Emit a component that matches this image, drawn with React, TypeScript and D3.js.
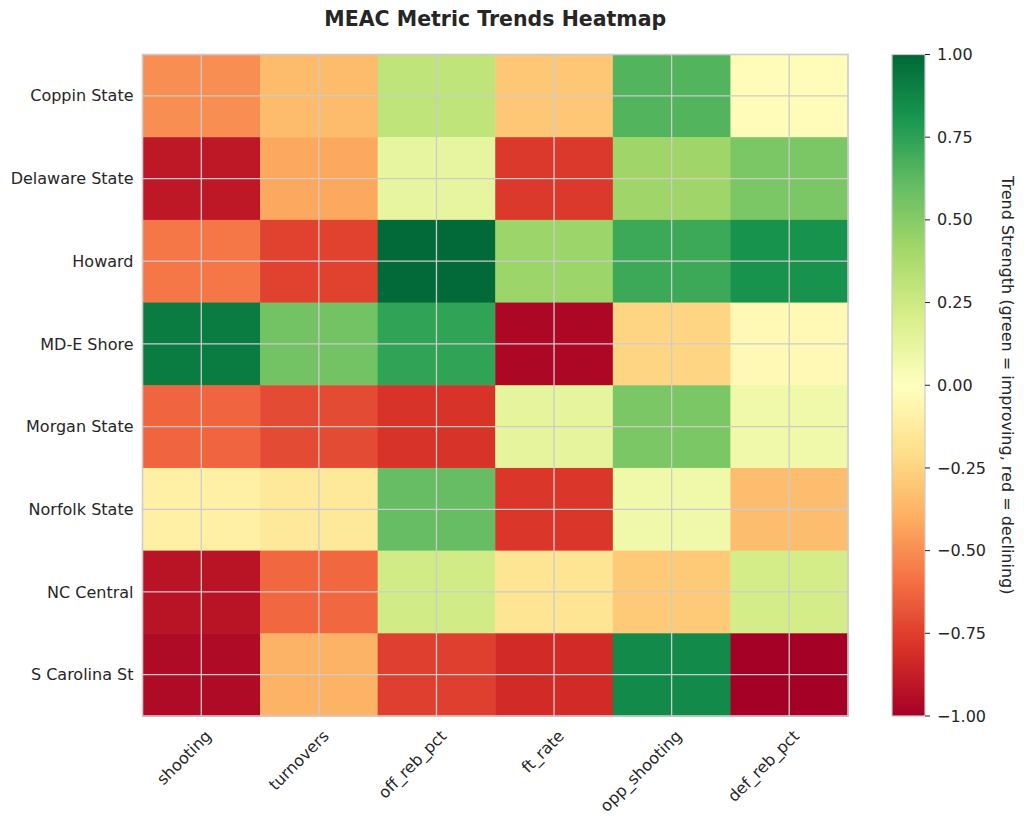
import { useMemo } from "react"
import * as d3 from "d3"

const teams = [
  "Coppin State",
  "Delaware State",
  "Howard",
  "MD-E Shore",
  "Morgan State",
  "Norfolk State",
  "NC Central",
  "S Carolina St",
]

const metrics = ["shooting", "turnovers", "off_reb_pct", "ft_rate", "opp_shooting", "def_reb_pct"]

// trend strength per team, in metric order
const coppinState = [-0.5, -0.35, 0.3, -0.3, 0.65, -0.02]
const delawareState = [-0.9, -0.42, 0.12, -0.77, 0.42, 0.53]
const howard = [-0.57, -0.74, 0.99, 0.43, 0.71, 0.82]
const mdEShore = [0.92, 0.56, 0.74, -0.97, -0.24, -0.04]
const morganState = [-0.63, -0.71, -0.79, 0.13, 0.53, 0.08]
const norfolkState = [-0.1, -0.14, 0.6, -0.78, 0.08, -0.34]
const ncCentral = [-0.92, -0.62, 0.23, -0.17, -0.29, 0.22]
const sCarolinaSt = [-0.96, -0.38, -0.75, -0.82, 0.86, -1.0]

const values = [coppinState, delawareState, howard, mdEShore, morganState, norfolkState, ncCentral, sCarolinaSt]

const colorbarTicks = [-1, -0.75, -0.5, -0.25, 0, 0.25, 0.5, 0.75, 1]

// matplotlib RdYlGn anchors
const rdYlGn = [
  "#a50026", "#d73027", "#f46d43", "#fdae61", "#fee08b", "#ffffbf",
  "#d9ef8b", "#a6d96a", "#66bd63", "#1a9850", "#006837",
]

const W = 1024
const H = 824
const margin = { top: 54.5, left: 142.5, right: 848, bottom: 716 }
const cb = { x: 892, w: 33 }
const font = "DejaVu Sans"
const textColor = "#262626"
const lineColor = "#cccccc"
const fs = 16

export default function App() {
  const x = useMemo(() => d3.scaleBand<string>().domain(metrics).range([margin.left, margin.right]), [])
  const y = useMemo(() => d3.scaleBand<string>().domain(teams).range([margin.top, margin.bottom]), [])
  const color = useMemo(
    () =>
      d3
        .scaleLinear<string>()
        .domain(d3.range(rdYlGn.length).map((i) => -1 + (2 * i) / (rdYlGn.length - 1)))
        .range(rdYlGn)
        .interpolate(d3.interpolateRgb)
        .clamp(true),
    [],
  )
  const cy = useMemo(() => d3.scaleLinear().domain([-1, 1]).range([margin.bottom, margin.top]), [])
  const fmt = d3.format(".2f")

  const stops = d3.range(0, 101).map((i) => {
    const v = -1 + (2 * i) / 100
    return { offset: `${i}%`, color: color(v) }
  })

  return (
    <svg
      width={W}
      height={H}
      style={{ position: "absolute", left: 0, top: 0, background: "#fff" }}
      fontFamily={font}
    >
      <defs>
        <linearGradient id="cbGrad" x1="0" y1="1" x2="0" y2="0">
          {stops.map((s) => (
            <stop key={s.offset} offset={s.offset} stopColor={s.color} />
          ))}
        </linearGradient>
      </defs>

      {/* title */}
      <text
        x={(margin.left + margin.right) / 2}
        y={26}
        textAnchor="middle"
        fontSize={20.5}
        fontWeight="bold"
        fill={textColor}
      >
        MEAC Metric Trends Heatmap
      </text>

      {/* cells */}
      {teams.map((team, r) =>
        metrics.map((m, c) => (
          <rect
            key={`${team}-${m}`}
            x={x(m)}
            y={y(team)}
            width={x.bandwidth() + 0.5}
            height={y.bandwidth() + 0.5}
            fill={color(values[r][c])}
          />
        )),
      )}

      {/* grid at cell centres */}
      {metrics.map((m) => {
        const cx = (x(m) ?? 0) + x.bandwidth() / 2
        return (
          <line key={m} x1={cx} x2={cx} y1={margin.top} y2={margin.bottom} stroke={lineColor} strokeWidth={1.3} />
        )
      })}
      {teams.map((t) => {
        const cyy = (y(t) ?? 0) + y.bandwidth() / 2
        return (
          <line key={t} x1={margin.left} x2={margin.right} y1={cyy} y2={cyy} stroke={lineColor} strokeWidth={1.3} />
        )
      })}

      {/* frame */}
      <rect
        x={margin.left}
        y={margin.top}
        width={margin.right - margin.left}
        height={margin.bottom - margin.top}
        fill="none"
        stroke={lineColor}
        strokeWidth={1.6}
      />

      {/* row labels */}
      {teams.map((t) => (
        <text
          key={t}
          x={margin.left - 9}
          y={(y(t) ?? 0) + y.bandwidth() / 2}
          dy="0.35em"
          textAnchor="end"
          fontSize={fs}
          fill={textColor}
        >
          {t}
        </text>
      ))}

      {/* column labels */}
      {metrics.map((m) => {
        const cx = (x(m) ?? 0) + x.bandwidth() / 2
        return (
          <text
            key={m}
            transform={`translate(${cx + 11},${737}) rotate(-45)`}
            textAnchor="end"
            fontSize={fs}
            fill={textColor}
          >
            {m}
          </text>
        )
      })}

      {/* colorbar */}
      <rect x={cb.x} y={margin.top} width={cb.w} height={margin.bottom - margin.top} fill="url(#cbGrad)" />
      <rect
        x={cb.x}
        y={margin.top}
        width={cb.w}
        height={margin.bottom - margin.top}
        fill="none"
        stroke={lineColor}
        strokeWidth={1.2}
      />
      {colorbarTicks.map((v) => (
        <g key={v} transform={`translate(${cb.x + cb.w},${cy(v)})`}>
          <line x1={0} x2={5} stroke={textColor} strokeWidth={1} />
          <text x={12} dy="0.35em" fontSize={fs} fill={textColor}>
            {fmt(v)}
          </text>
        </g>
      ))}
      <text
        transform={`translate(${1002},${(margin.top + margin.bottom) / 2}) rotate(90)`}
        textAnchor="middle"
        fontSize={fs}
        fill={textColor}
      >
        Trend Strength (green = improving, red = declining)
      </text>
    </svg>
  )
}
